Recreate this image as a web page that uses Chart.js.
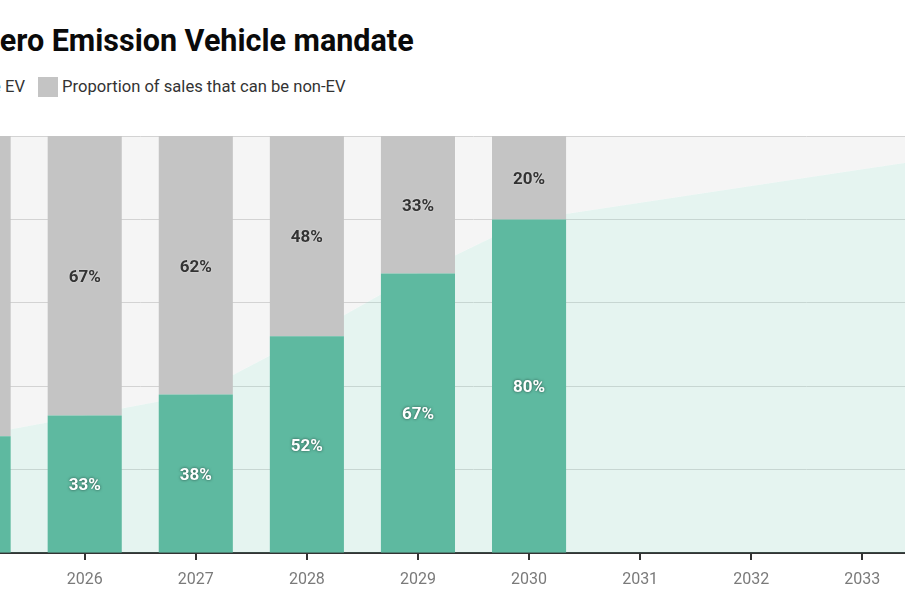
<!DOCTYPE html>
<html>
<head>
<meta charset="utf-8">
<script src="https://cdn.jsdelivr.net/npm/chart.js@4.4.1/dist/chart.umd.min.js"></script>
<style>
  html, body { margin:0; padding:0; width:905px; height:613px; overflow:hidden; background:#fff; font-family: Roboto, "Noto Sans", sans-serif; }
  #title { position:absolute; top:26px; left:-17px; font-weight:700; font-size:30.5px; line-height:30px; color:#0a0a0a; white-space:nowrap; }
  .leg { position:absolute; top:77px; display:flex; align-items:center; gap:4px; font-size:16.6px; line-height:20px; color:#333; white-space:nowrap; }
  .box { width:20px; height:20px; display:inline-block; }
  #wrap { position:absolute; left:-193px; top:0; width:1333px; height:613px; }
</style>
</head>
<body>
<div id="title">Zero Emission Vehicle mandate</div>
<div class="leg" id="leg1" style="right:880px;"><span class="box" style="background:#5eb9a0"></span><span>Proportion of sales that must be EV</span></div>
<div class="leg" id="leg2" style="left:38px;"><span class="box" style="background:#c4c4c4"></span><span>Proportion of sales that can be non-EV</span></div>
<div id="wrap"><canvas id="c"></canvas></div>
<script>
// Data
const years = ['2024','2025','2026','2027','2028','2029','2030','2031','2032','2033','2034','2035'];
const evShare = [22, 28, 33, 38, 52, 67, 80, null, null, null, null, null];
const nonEvShare = [78, 72, 67, 62, 48, 33, 20, null, null, null, null, null];
const trajectory = [22, 28, 33, 38, 52, 67, 80, 84, 88, 92, 96, 100];
const fullShare = [100, 100, 100, 100, 100, 100, 100, 100, 100, 100, 100, 100];
const yTicks = [0, 20, 40, 60, 80, 100];

// position title so the Z is clipped like the reference
(function(){
  const cx = document.createElement('canvas').getContext('2d');
  cx.font = '700 30.5px Roboto';
  document.getElementById('title').style.left = (-cx.measureText('Z').width) + 'px';
})();

const labelPlugin = {
  id: 'barLabels',
  afterDatasetsDraw(chart) {
    const ctx = chart.ctx;
    [0, 1].forEach(di => {
      const meta = chart.getDatasetMeta(di);
      const ds = chart.data.datasets[di];
      meta.data.forEach((el, i) => {
        const v = ds.data[i];
        if (v == null) return;
        const y = (el.y + el.base) / 2 + 2;
        ctx.save();
        ctx.font = '700 17px Roboto';
        ctx.textAlign = 'center';
        ctx.textBaseline = 'middle';
        if (di === 0) {
          ctx.fillStyle = '#ffffff';
          ctx.shadowColor = 'rgba(0,0,0,0.6)';
          ctx.shadowBlur = 3;
        } else {
          ctx.fillStyle = '#333333';
          ctx.shadowColor = 'rgba(255,255,255,0.6)';
          ctx.shadowBlur = 2;
        }
        ctx.fillText(v + '%', el.x, y);
        ctx.restore();
      });
    });
  }
};

new Chart(document.getElementById('c'), {
  data: {
    labels: years,
    datasets: [
      { type:'bar', label:'Proportion of sales that must be EV', data: evShare, backgroundColor:'#5eb9a0', stack:'bars', order:1, categoryPercentage:1, barPercentage:0.667 },
      { type:'bar', label:'Proportion of sales that can be non-EV', data: nonEvShare, backgroundColor:'#c4c4c4', stack:'bars', order:1, categoryPercentage:1, barPercentage:0.667 },
      { type:'line', data: trajectory, stack:'t', order:10, borderWidth:0, pointRadius:0, fill:'origin', backgroundColor:'rgba(94,185,160,0.16)', tension:0 },
      { type:'line', data: fullShare, stack:'f', order:11, borderWidth:0, pointRadius:0, fill:'-1', backgroundColor:'rgba(0,0,0,0.04)', tension:0 }
    ]
  },
  options: {
    responsive: true,
    maintainAspectRatio: false,
    animation: false,
    devicePixelRatio: 1,
    layout: { padding: { top:136, left:0, right:0, bottom:0 } },
    plugins: { legend:{display:false}, tooltip:{enabled:false}, title:{display:false} },
    scales: {
      x: {
        stacked: true,
        offset: true,
        grid: { display:true, offset:false, drawOnChartArea:false, drawTicks:true, tickLength:7, color:'#333', lineWidth:2 },
        border: { display:true, color:'#333', width:2 },
        ticks: { color:'#7a7a7a', font:{ family:'Roboto', size:16 }, padding:10, maxRotation:0 },
        afterFit: s => { s.height = 60; }
      },
      y: {
        stacked: true,
        min: 0, max: 100,
        afterBuildTicks: s => { s.ticks = yTicks.map(v => ({value:v})); },
        ticks: { display:false },
        grid: { color:'#dcdcdc', lineWidth:1, drawTicks:false },
        border: { display:false },
        afterFit: s => { s.width = 0; }
      }
    }
  },
  plugins: [labelPlugin]
});
</script>
</body>
</html>
